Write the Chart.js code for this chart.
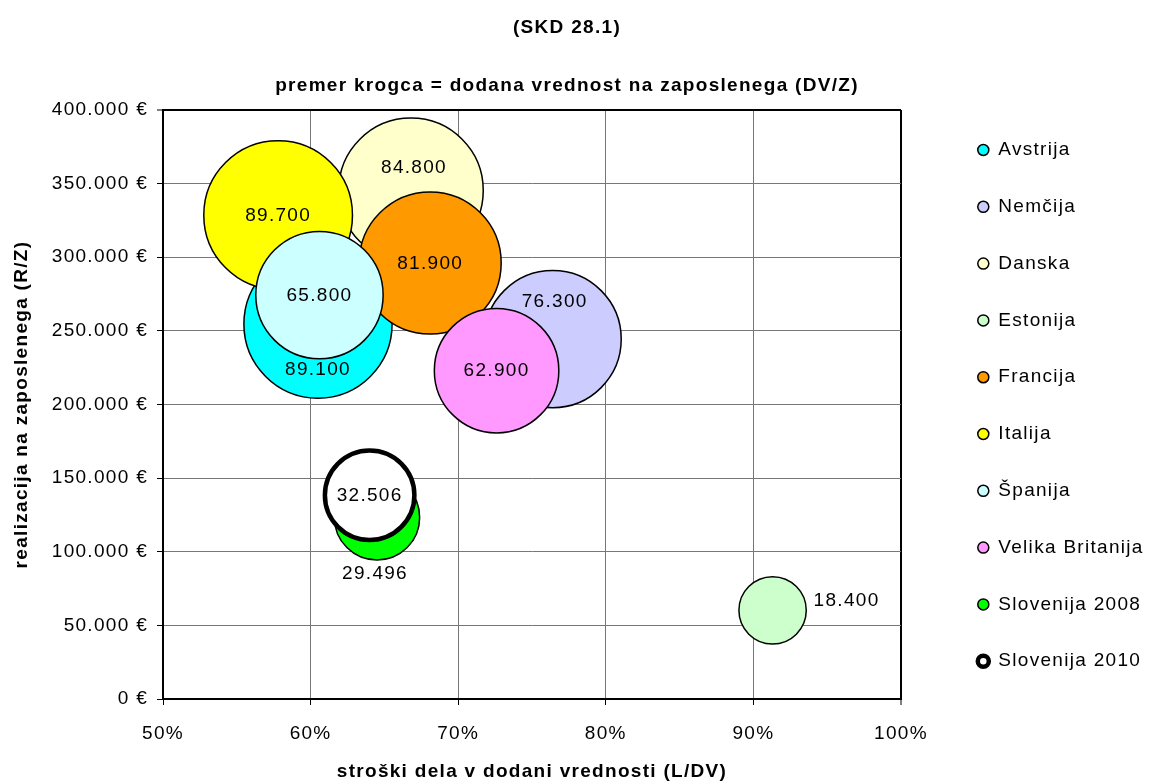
<!DOCTYPE html>
<html>
<head>
<meta charset="utf-8">
<script src="https://cdn.jsdelivr.net/npm/chart.js@4"></script>
<style>
html,body{margin:0;padding:0;background:#fff;}
#wrap{width:1149px;height:781px;position:relative;}
</style>
</head>
<body>
<div id="wrap"><canvas id="c"></canvas></div>
<script>
// ---- data ----
const countries = ['Avstrija','Nemčija','Danska','Estonija','Francija','Italija','Španija','Velika Britanija','Slovenija 2008','Slovenija 2010'];
const laborCostShare = [60.5, 76.4, 66.8, 91.3, 68.1, 57.8, 60.6, 72.6, 64.5, 64.0];          // x, %
const revenuePerEmployee = [254600, 244400, 345400, 60200, 296100, 328600, 274300, 223000, 123300, 138400]; // y, €
const valueAddedPerEmployee = [89100, 76300, 84800, 18400, 81900, 89700, 65800, 62900, 29496, 32506];      // bubble size
const xTickValues = [50, 60, 70, 80, 90, 100];
const yTickValues = [0, 50000, 100000, 150000, 200000, 250000, 300000, 350000, 400000];

// ---- styles ----
const fills = ['#00FFFF','#CCCCFF','#FFFFCC','#CCFFCC','#FF9900','#FFFF00','#CCFFFF','#FF99FF','#00FF00','#FFFFFF'];
const borderWidths = [1.5,1.5,1.5,1.5,1.5,1.5,1.5,1.5,1.5,4.5];
const labelOffsets = [
  {dx:0, dy:46}, {dx:2, dy:-37}, {dx:3, dy:-23}, {dx:41, dy:-10, align:'left'},
  {dx:0, dy:1}, {dx:0, dy:1}, {dx:0, dy:1}, {dx:0, dy:0}, {dx:-2, dy:56}, {dx:0, dy:1}
];
const SIZE_K = 0.2482;
const FONT = '"Liberation Sans", Arial, Helvetica, sans-serif';
const FS = 19;
const SPACING = '1.3px';

function thousands(v){ return String(v).replace(/\B(?=(\d{3})+(?!\d))/g, '.'); }

const spacingPlugin = {
  id: 'spacing',
  beforeLayout(chart){ chart.ctx.letterSpacing = SPACING; },
  afterLayout(chart){
    chart.boxes.forEach(b => {
      if (b.position === 'top' && b.options && typeof b.options.text === 'string') {
        b.right = 1134;
      }
    });
  },
  beforeDraw(chart){ chart.ctx.letterSpacing = SPACING; }
};

const labelPlugin = {
  id: 'bubbleLabels',
  afterDatasetsDraw(chart){
    const ctx = chart.ctx;
    ctx.save();
    ctx.font = FS + 'px ' + FONT;
    ctx.fillStyle = '#000';
    ctx.textBaseline = 'middle';
    chart.data.datasets.forEach((ds, i) => {
      const el = chart.getDatasetMeta(i).data[0];
      const o = labelOffsets[i];
      ctx.textAlign = o.align || 'center';
      ctx.fillText(thousands(valueAddedPerEmployee[i]), el.x + o.dx, el.y + o.dy);
    });
    ctx.restore();
  }
};

const datasets = countries.map((name, i) => ({
  label: name,
  data: [{x: laborCostShare[i], y: revenuePerEmployee[i], r: SIZE_K * Math.sqrt(valueAddedPerEmployee[i])}],
  backgroundColor: fills[i],
  borderColor: '#000',
  borderWidth: borderWidths[i],
  hoverBorderWidth: borderWidths[i],
  order: countries.length - i,
  xAxisID: 'x',
  yAxisID: 'y'
}));

new Chart(document.getElementById('c'), {
  type: 'bubble',
  data: { datasets },
  plugins: [spacingPlugin, labelPlugin],
  options: {
    responsive: true,
    maintainAspectRatio: false,
    animation: false,
    events: [],
    layout: { padding: { left: 0, right: 0, top: 0, bottom: 0 } },
    scales: {
      x: {
        type: 'linear', position: 'bottom', min: 50, max: 100,
        afterBuildTicks: s => { s.ticks = xTickValues.map(v => ({value: v})); },
        afterFit: s => { s.height = 82; },
        ticks: { color: '#000', font: { size: FS, family: FONT }, padding: 17.4, callback: v => v + '%' },
        grid: {
          color: c => (c.tick && (c.tick.value === 100 || c.tick.value === 50)) ? '#000' : '#777',
          lineWidth: c => (c.tick && c.tick.value === 100) ? 2 : 1,
          tickColor: '#000', tickWidth: 1, tickLength: 6
        },
        border: { color: '#000', width: 2 },
        title: { display: true, text: 'stroški dela v dodani vrednosti (L/DV)', color: '#000',
                 font: { size: FS, weight: 'bold', family: FONT }, padding: { top: 0, bottom: -2 } }
      },
      y: {
        type: 'linear', position: 'left', min: 0, max: 400000,
        afterBuildTicks: s => { s.ticks = yTickValues.map(v => ({value: v})); },
        afterFit: s => { s.width = 163; },
        ticks: { color: '#000', font: { size: FS, family: FONT }, padding: 9, callback: v => thousands(v) + ' €' },
        grid: {
          color: c => (c.tick && c.tick.value === 400000) ? '#000' : '#777',
          lineWidth: c => (c.tick && c.tick.value === 400000) ? 2 : 1,
          tickColor: '#000', tickWidth: 1, tickLength: 6
        },
        border: { color: '#000', width: 2 },
        title: { display: true, text: 'realizacija na zaposlenega (R/Z)', color: '#000',
                 font: { size: FS, weight: 'bold', family: FONT }, padding: { top: 10, bottom: 0 } }
      },
      y2: {
        type: 'linear', position: 'right', display: true,
        grid: { display: false, drawTicks: false }, border: { display: false },
        ticks: { display: false },
        afterFit: s => { s.width = 39; }
      }
    },
    plugins: {
      tooltip: { enabled: false },
      title: {
        display: true, text: '(SKD 28.1)', color: '#000',
        font: { size: FS, weight: 'bold', family: FONT, lineHeight: 1.2 },
        padding: { top: 16.1, bottom: 0 }
      },
      subtitle: {
        display: true, text: 'premer krogca = dodana vrednost na zaposlenega (DV/Z)', color: '#000',
        font: { size: FS, weight: 'bold', family: FONT, lineHeight: 1.2 },
        padding: { top: 35.2, bottom: 13.1 }
      },
      legend: {
        display: true, position: 'right', align: 'center', fullSize: true, maxWidth: 209,
        title: { display: true, text: ' ', font: { size: 10 }, padding: { top: 18.2, bottom: 0 } },
        labels: {
          usePointStyle: true, pointStyle: 'circle', boxWidth: 11, boxHeight: 7.8,
          padding: 37.8, color: '#000', font: { size: FS, family: FONT },
          sort: (a, b) => a.datasetIndex - b.datasetIndex
        }
      }
    }
  }
});
</script>
</body>
</html>
